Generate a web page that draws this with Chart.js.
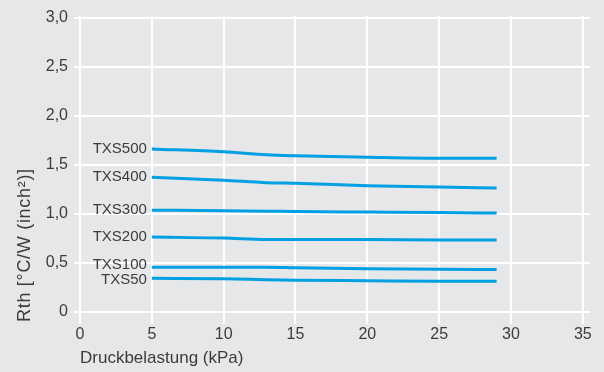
<!DOCTYPE html>
<html lang="de">
<head>
<meta charset="UTF-8">
<title>Rth vs Druckbelastung</title>
<script src="https://cdn.jsdelivr.net/npm/chart.js"></script>
<style>
    html, body {
        margin: 0;
        padding: 0;
        background-color: #e6e7e8;
    }
    .wrap {
        width: 604px;
        height: 372px;
    }
</style>
</head>
<body>
<div class="wrap"><canvas id="grafico"></canvas></div>
<script>
    // Druckbelastung (kPa)
    const druck = [5, 10, 13, 15, 20, 25, 29];

    // Rth [°C/W (inch²)] per type
    const txs500 = [1.66, 1.63, 1.60, 1.59, 1.575, 1.565, 1.565];
    const txs400 = [1.37, 1.34, 1.315, 1.31, 1.285, 1.27, 1.26];
    const txs300 = [1.035, 1.03, 1.025, 1.02, 1.015, 1.01, 1.005];
    const txs200 = [0.76, 0.75, 0.735, 0.735, 0.735, 0.73, 0.73];
    const txs100 = [0.452, 0.452, 0.452, 0.447, 0.437, 0.432, 0.43];
    const txs50  = [0.34, 0.335, 0.325, 0.32, 0.315, 0.31, 0.31];

    const typen = ['TXS500', 'TXS400', 'TXS300', 'TXS200', 'TXS100', 'TXS50'];
    const reihen = [txs500, txs400, txs300, txs200, txs100, txs50];

    const xTicks = [0, 5, 10, 15, 20, 25, 30, 35];
    const yTicks = [0, 0.5, 1.0, 1.5, 2.0, 2.5, 3.0];

    const xTitel = 'Druckbelastung (kPa)';
    const yTitel = 'Rth [°C/W (inch²)]';

    const fontFamily = "'Liberation Sans', Arial, sans-serif";
    const textColor = '#3c3c3c';
    const lineColor = '#00a0e2';

    // small vertical nudges for the curve names
    const labelShift = [0, 0, 0, 0, -2, 2];

    const kurvenNamen = {
        id: 'kurvenNamen',
        afterDatasetsDraw(chart) {
            const ctx = chart.ctx;
            ctx.save();
            ctx.font = '15px ' + fontFamily;
            ctx.fillStyle = textColor;
            ctx.textAlign = 'right';
            ctx.textBaseline = 'middle';
            chart.data.datasets.forEach((ds, i) => {
                const p = chart.getDatasetMeta(i).data[0];
                ctx.fillText(ds.label, p.x - 5, p.y + labelShift[i]);
            });
            ctx.restore();
        }
    };

    // y title drawn by hand, a little wider spaced than the default
    const yAchsenTitel = {
        id: 'yAchsenTitel',
        afterDraw(chart) {
            const ctx = chart.ctx;
            ctx.save();
            ctx.translate(25, 322);
            ctx.rotate(-Math.PI / 2);
            ctx.font = '18px ' + fontFamily;
            ctx.letterSpacing = '0.7px';
            ctx.fillStyle = textColor;
            ctx.textAlign = 'left';
            ctx.textBaseline = 'middle';
            ctx.fillText(yTitel, 0, 0);
            ctx.restore();
        }
    };

    new Chart(document.getElementById('grafico').getContext('2d'), {
        type: 'line',
        data: {
            datasets: reihen.map((werte, i) => ({
                label: typen[i],
                data: werte.map((v, j) => ({ x: druck[j], y: v })),
                borderColor: lineColor,
                borderWidth: 3,
                pointRadius: 0,
                tension: 0.3,
                cubicInterpolationMode: 'monotone',
                fill: false
            }))
        },
        options: {
            responsive: true,
            maintainAspectRatio: false,
            animation: false,
            layout: { padding: { top: 12, right: 14, left: 0, bottom: 0 } },
            plugins: {
                legend: { display: false },
                tooltip: { enabled: false }
            },
            scales: {
                x: {
                    type: 'linear',
                    min: 0,
                    max: 35.5,
                    afterBuildTicks: s => { s.ticks = xTicks.map(v => ({ value: v })); },
                    afterFit: s => { s.height = 53; },
                    grid: { color: '#ffffff', lineWidth: 2, tickLength: 5 },
                    border: { display: false },
                    ticks: {
                        color: textColor,
                        font: { family: fontFamily, size: 16 },
                        padding: 1,
                        maxRotation: 0,
                        callback: v => String(v)
                    },
                    title: {
                        display: true,
                        text: xTitel,
                        align: 'start',
                        color: textColor,
                        font: { family: fontFamily, size: 17 },
                        padding: { top: 0, bottom: 3 }
                    }
                },
                y: {
                    min: -0.0756,
                    max: 3.02,
                    afterBuildTicks: s => { s.ticks = yTicks.map(v => ({ value: v })); },
                    afterFit: s => { s.width = 80; },
                    grid: { color: '#ffffff', lineWidth: 2, tickLength: 6 },
                    border: { display: true, color: '#ffffff', width: 2 },
                    ticks: {
                        color: textColor,
                        font: { family: fontFamily, size: 16 },
                        padding: 6,
                        callback: v => v === 0 ? '0' : v.toFixed(1).replace('.', ',')
                    },
                    title: { display: false }
                }
            }
        },
        plugins: [kurvenNamen, yAchsenTitel]
    });
</script>
</body>
</html>
